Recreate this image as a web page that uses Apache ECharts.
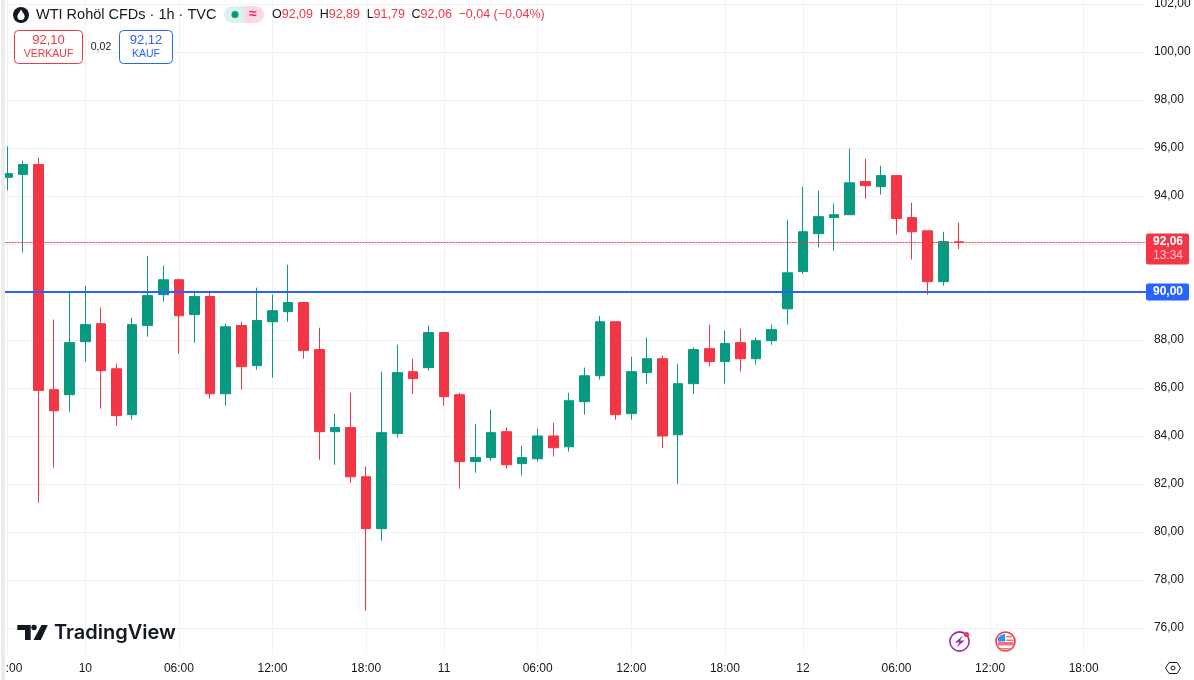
<!DOCTYPE html>
<html>
<head>
<meta charset="utf-8">
<title>WTI Rohöl CFDs</title>
<style>
  html, body { margin: 0; padding: 0; background: #fff; }
  #chart { width: 1194px; height: 680px; }
</style>
<script src="https://cdn.jsdelivr.net/npm/echarts@6/dist/echarts.min.js"></script>
</head>
<body>
<div id="chart"></div>
<script>
// values, one entry per hourly candle
var opens = [94.78, 94.90, 95.31, 85.93, 85.72, 87.93, 88.68, 86.80, 84.89, 88.60, 89.89, 90.51, 89.06, 89.81, 85.76, 88.60,
    86.93, 88.76, 89.18, 89.56, 87.60, 84.18, 84.35, 82.30, 80.14, 84.10, 86.68, 86.85, 88.31, 85.72, 82.93, 83.10,
    84.18, 82.85, 83.05, 84.00, 83.55, 85.43, 86.51, 88.76, 84.93, 86.64, 87.22, 84.05, 86.18, 87.64, 87.10, 87.89,
    87.22, 87.97, 89.30, 90.85, 92.43, 93.10, 93.22, 94.60, 94.39, 94.85, 93.10, 92.55, 90.43, 92.09];
var closes = [94.93, 95.31, 85.90, 85.05, 87.89, 88.64, 86.72, 84.85, 88.64, 89.85, 90.51, 89.01, 89.81, 85.76, 88.55, 86.89,
    88.81, 89.22, 89.56, 87.56, 84.18, 84.35, 82.30, 80.14, 84.14, 86.64, 86.39, 88.31, 85.64, 82.93, 83.10, 84.14,
    82.80, 83.10, 84.00, 83.51, 85.47, 86.51, 88.76, 84.89, 86.68, 87.22, 84.00, 86.18, 87.60, 87.10, 87.85, 87.22,
    87.97, 88.43, 90.80, 92.51, 93.14, 93.22, 94.55, 94.43, 94.85, 93.06, 92.51, 90.43, 92.10, 92.06];
var lows = [94.24, 91.65, 81.22, 82.68, 85.01, 87.10, 85.14, 84.43, 84.68, 88.14, 89.60, 87.43, 87.89, 85.55, 85.26, 85.93,
    86.76, 86.43, 88.76, 87.22, 83.01, 82.80, 82.05, 76.72, 79.64, 83.93, 85.76, 86.72, 85.26, 81.80, 82.47, 82.97,
    82.64, 82.35, 82.93, 83.14, 83.35, 84.89, 86.35, 84.68, 84.68, 86.18, 83.50, 82.01, 85.76, 86.89, 86.18, 86.68,
    86.97, 87.80, 88.64, 90.76, 91.85, 91.72, 93.22, 93.89, 94.06, 92.39, 91.35, 89.89, 90.26, 91.79];
var highs = [96.07, 95.47, 95.60, 88.85, 90.01, 90.26, 89.35, 87.01, 88.93, 91.51, 91.10, 90.55, 90.06, 90.06, 88.68, 88.76,
    90.18, 89.89, 91.14, 89.56, 88.51, 84.93, 85.80, 82.72, 86.68, 87.80, 87.22, 88.60, 88.31, 85.80, 84.51, 85.10,
    84.35, 83.60, 84.30, 84.55, 85.80, 86.85, 89.01, 88.76, 87.30, 88.10, 87.35, 87.01, 87.68, 88.64, 88.39, 88.47,
    88.10, 88.64, 93.01, 94.39, 94.22, 93.68, 95.97, 95.55, 95.26, 94.85, 93.72, 92.55, 92.51, 92.89];

var tickIndex = [0, 5, 11, 17, 23, 28, 34, 40, 46, 51, 57, 63, 69];
var tickText = ['18:00', '10', '06:00', '12:00', '18:00', '11', '06:00', '12:00', '18:00', '12', '06:00', '12:00', '18:00'];
var priceTicks = [76, 78, 80, 82, 84, 86, 88, 90, 92, 94, 96, 98, 100, 102];

var lastPrice = 92.06;
var alertPrice = 90;
var slotCount = 74; // includes the empty hours right of the last candle

var RED = '#f23645';
var GREEN = '#089981';
var BLUE = '#2962ff';
var INK = '#131722';
var GRID = '#f1f2f4';
var FONT = '"Liberation Sans", Arial, sans-serif';

var categories = [];
for (var i = 0; i < slotCount; i++) {
    var t = tickIndex.indexOf(i);
    categories.push(t >= 0 ? tickText[t] : '');
}
var candles = opens.map(function (o, i) {
    return [o, closes[i], lows[i], highs[i]];
});
function priceFmt(v) {
    return v.toFixed(2).replace('.', ',');
}

var overlay = [
    // covers the grid right of the plot, the price axis sits above it
    { type: 'rect', z: 10, shape: { x: 1146, y: 0, width: 48, height: 680 }, style: { fill: '#fff' } },
    // gray sidebar edge
    { type: 'rect', z: 12, shape: { x: 0, y: 0, width: 1, height: 680 }, style: { fill: '#fff' } },
    { type: 'rect', z: 12, shape: { x: 1, y: 0, width: 4, height: 680 }, style: { fill: '#ececec' } },

    // symbol line
    { type: 'circle', z: 30, shape: { cx: 21, cy: 15, r: 8 }, style: { fill: INK } },
    { type: 'circle', z: 31, shape: { cx: 21, cy: 16.5, r: 3.6 }, style: { fill: '#fff' } },
    { type: 'polygon', z: 31, shape: { points: [[21, 9.5], [17.8, 14.8], [24.2, 14.8]] }, style: { fill: '#fff' } },
    { type: 'text', z: 30, style: { x: 36, y: 15, text: 'WTI Rohöl CFDs · 1h · TVC', font: '14.5px ' + FONT, fill: INK, verticalAlign: 'middle' } },
    { type: 'rect', z: 30, shape: { x: 224, y: 6, width: 20, height: 17, r: [8.5, 0, 0, 8.5] }, style: { fill: '#daf1ec' } },
    { type: 'rect', z: 30, shape: { x: 244, y: 6, width: 20, height: 17, r: [0, 8.5, 8.5, 0] }, style: { fill: '#fbd9de' } },
    { type: 'circle', z: 31, shape: { cx: 235, cy: 14.5, r: 3.5 }, style: { fill: GREEN } },
    { type: 'text', z: 31, style: { x: 253, y: 14, text: '≈', font: 'bold 14px ' + FONT, fill: '#e91e63', align: 'center', verticalAlign: 'middle' } },
    {
        type: 'text', z: 30,
        style: {
            x: 272, y: 15, verticalAlign: 'middle',
            text: '{k|O}{v|92,09}  {k|H}{v|92,89}  {k|L}{v|91,79}  {k|C}{v|92,06}  {v|−0,04 (−0,04%)}',
            rich: {
                k: { font: '12.5px ' + FONT, fill: INK },
                v: { font: '12.5px ' + FONT, fill: RED }
            }
        }
    },

    // sell / buy boxes
    { type: 'rect', z: 30, shape: { x: 14.5, y: 30.5, width: 68, height: 33, r: 4 }, style: { fill: '#fff', stroke: RED, lineWidth: 1 } },
    { type: 'text', z: 31, style: { x: 48.5, y: 40, text: '92,10', font: '13px ' + FONT, fill: RED, align: 'center', verticalAlign: 'middle' } },
    { type: 'text', z: 31, style: { x: 48.5, y: 54, text: 'VERKAUF', font: '10.5px ' + FONT, fill: RED, align: 'center', verticalAlign: 'middle' } },
    { type: 'text', z: 31, style: { x: 101, y: 47, text: '0,02', font: '10.5px ' + FONT, fill: INK, align: 'center', verticalAlign: 'middle' } },
    { type: 'rect', z: 30, shape: { x: 119.5, y: 30.5, width: 53, height: 33, r: 4 }, style: { fill: '#fff', stroke: BLUE, lineWidth: 1 } },
    { type: 'text', z: 31, style: { x: 146, y: 40, text: '92,12', font: '13px ' + FONT, fill: BLUE, align: 'center', verticalAlign: 'middle' } },
    { type: 'text', z: 31, style: { x: 146, y: 54, text: 'KAUF', font: '10.5px ' + FONT, fill: BLUE, align: 'center', verticalAlign: 'middle' } },

    // TradingView logo
    { type: 'polygon', z: 30, shape: { points: [[17.3, 625], [30.7, 625], [30.7, 640], [25, 640], [25, 630], [17.3, 630]] }, style: { fill: INK } },
    { type: 'circle', z: 30, shape: { cx: 34, cy: 627.5, r: 2.7 }, style: { fill: INK } },
    { type: 'polygon', z: 30, shape: { points: [[41.5, 625], [47.8, 625], [40.8, 640], [33.5, 640]] }, style: { fill: INK } },
    { type: 'text', z: 30, style: { x: 54, y: 633, text: 'TradingView', font: '600 20px Inter, ' + FONT, fill: INK, verticalAlign: 'middle' } },

    // event badges
    { type: 'circle', z: 30, shape: { cx: 959.5, cy: 641.5, r: 9.6 }, style: { fill: '#fff', stroke: '#9c27b0', lineWidth: 1.6 } },
    { type: 'polygon', z: 31, shape: { points: [[963, 635.5], [955, 642.5], [959.5, 642.5], [956.5, 647.5], [964.5, 640.5], [960, 640.5]] }, style: { fill: '#9c27b0' } },
    { type: 'circle', z: 32, shape: { cx: 966.5, cy: 634.5, r: 2.6 }, style: { fill: RED } },
    { type: 'circle', z: 30, shape: { cx: 1005.5, cy: 641.5, r: 9.5 }, style: { fill: '#fff', stroke: RED, lineWidth: 1.6 } },
    { type: 'rect', z: 31, shape: { x: 998, y: 642, width: 15.5, height: 3.5 }, style: { fill: '#f7717d' } },
    { type: 'rect', z: 31, shape: { x: 1000, y: 648, width: 11.5, height: 1.5 }, style: { fill: '#f7717d' } },
    { type: 'polygon', z: 31, shape: { points: [[998, 638], [1001, 635], [1005, 634], [1005, 641.5], [998, 641.5]] }, style: { fill: '#2196f3' } },
    { type: 'rect', z: 31, shape: { x: 1006, y: 636, width: 6, height: 1.5 }, style: { fill: '#f7717d' } },
    { type: 'rect', z: 31, shape: { x: 1006, y: 639.5, width: 7.5, height: 1.5 }, style: { fill: '#f7717d' } },

    // settings hexagon
    { type: 'polygon', z: 30, shape: { points: [[1165.5, 668], [1169, 662.5], [1177, 662.5], [1180.5, 668], [1177, 673.5], [1169, 673.5]] }, style: { fill: '#fff', stroke: INK, lineWidth: 1 } },
    { type: 'circle', z: 31, shape: { cx: 1173, cy: 668, r: 2 }, style: { fill: '#fff', stroke: INK, lineWidth: 1 } }
];

var chart = echarts.init(document.getElementById('chart'), null, { renderer: 'canvas' });

chart.setOption({
    animation: false,
    backgroundColor: '#fff',
    textStyle: { fontFamily: FONT },
    grid: { left: -0.5, top: -0.33, width: 1154.4, height: 654, containLabel: false, outerBoundsMode: 'none' },
    xAxis: {
        type: 'category',
        data: categories,
        axisLine: { show: false },
        axisTick: { show: false },
        axisLabel: {
            interval: function (idx, val) { return val !== ''; },
            color: INK,
            fontSize: 12,
            fontFamily: FONT,
            margin: 9
        },
        splitLine: {
            show: true,
            alignWithLabel: true,
            interval: function (idx, val) { return val !== ''; },
            lineStyle: { color: GRID, width: 1 }
        }
    },
    yAxis: [{
        type: 'value',
        min: 74.93,
        max: 102.18,
        position: 'right',
        axisLine: { show: false },
        axisTick: { show: false, customValues: priceTicks },
        axisLabel: { show: false, customValues: priceTicks },
        splitLine: { show: true, lineStyle: { color: GRID, width: 1 } }
    }, {
        type: 'value',
        min: 74.93,
        max: 102.18,
        position: 'right',
        z: 20,
        axisLine: { show: false },
        axisTick: { show: false, customValues: priceTicks },
        splitLine: { show: false },
        axisLabel: {
            customValues: priceTicks,
            formatter: priceFmt,
            color: INK,
            fontSize: 12,
            fontFamily: FONT,
            margin: 0,
            padding: [0, 0, 4, 0]
        }
    }],
    series: [{
        type: 'candlestick',
        data: candles,
        barWidth: 10,
        itemStyle: {
            color: GREEN,
            color0: RED,
            borderColor: GREEN,
            borderColor0: RED,
            borderWidth: 1
        },
        markLine: {
            silent: true,
            symbol: 'none',
            animation: false,
            label: { show: false },
            data: [
                { yAxis: alertPrice, lineStyle: { color: BLUE, width: 2, type: 'solid' } },
                { yAxis: lastPrice, lineStyle: { color: RED, width: 1, type: [2, 1], opacity: 1 } }
            ]
        }
    }],
    graphic: overlay
});

// price tags follow the axis scale
var lastY = chart.convertToPixel({ yAxisIndex: 0 }, lastPrice);
var alertY = chart.convertToPixel({ yAxisIndex: 0 }, alertPrice);
chart.setOption({
    graphic: overlay.concat([
        { type: 'rect', z: 30, shape: { x: 1146, y: lastY - 9, width: 43, height: 31, r: 2 }, style: { fill: RED } },
        { type: 'text', z: 31, style: { x: 1168, y: lastY - 1, text: priceFmt(lastPrice), font: 'bold 12px ' + FONT, fill: '#fff', align: 'center', verticalAlign: 'middle' } },
        { type: 'text', z: 31, style: { x: 1168, y: lastY + 13, text: '13:34', font: '12px ' + FONT, fill: '#fbc3c9', align: 'center', verticalAlign: 'middle' } },
        { type: 'rect', z: 30, shape: { x: 1146, y: alertY - 8.5, width: 43, height: 17, r: 2 }, style: { fill: BLUE } },
        { type: 'text', z: 31, style: { x: 1168, y: alertY, text: priceFmt(alertPrice), font: 'bold 12px ' + FONT, fill: '#fff', align: 'center', verticalAlign: 'middle' } }
    ])
});
</script>
</body>
</html>
